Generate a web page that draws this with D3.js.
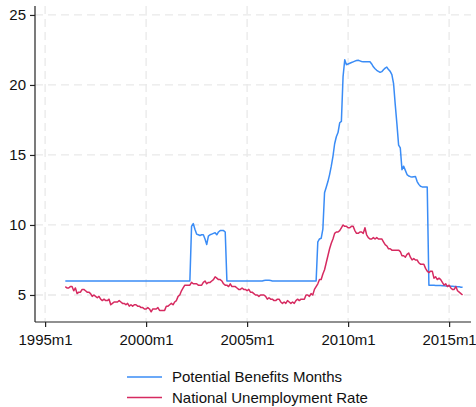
<!DOCTYPE html>
<html>
<head>
<meta charset="utf-8">
<script src="https://cdn.jsdelivr.net/npm/d3@7"></script>
<style>
	body { margin: 0; background: #fff; }
	text { font-family: 'Liberation Sans', Arial, Helvetica, sans-serif; fill: #111; }
</style>
</head>
<body>
<svg id="chart" width="476" height="407"></svg>
<script>
// monthly series, first value = 1996m1
const startYear = 1996;

const benefitMonths = [
	6.0, 6.0, 6.0, 6.0, 6.0, 6.0, 6.0, 6.0, 6.0, 6.0, 6.0, 6.0, // 1996
	6.0, 6.0, 6.0, 6.0, 6.0, 6.0, 6.0, 6.0, 6.0, 6.0, 6.0, 6.0, // 1997
	6.0, 6.0, 6.0, 6.0, 6.0, 6.0, 6.0, 6.0, 6.0, 6.0, 6.0, 6.0, // 1998
	6.0, 6.0, 6.0, 6.0, 6.0, 6.0, 6.0, 6.0, 6.0, 6.0, 6.0, 6.0, // 1999
	6.0, 6.0, 6.0, 6.0, 6.0, 6.0, 6.0, 6.0, 6.0, 6.0, 6.0, 6.0, // 2000
	6.0, 6.0, 6.0, 6.0, 6.0, 6.0, 6.0, 6.0, 6.0, 6.0, 6.0, 6.0, // 2001
	6.0, 6.0, 6.0, 9.9, 10.1, 9.7, 9.35, 9.3, 9.25, 9.3, 9.3, 9.0, // 2002
	8.6, 9.2, 9.3, 9.35, 9.4, 9.45, 9.3, 9.5, 9.6, 9.6, 9.6, 9.5, // 2003
	6.0, 6.0, 6.0, 6.0, 6.0, 6.0, 6.0, 6.0, 6.0, 6.0, 6.0, 6.0, // 2004
	6.0, 6.0, 6.0, 6.0, 6.0, 6.0, 6.0, 6.0, 6.0, 6.0, 6.03, 6.05, // 2005
	6.05, 6.05, 6.03, 6.0, 6.0, 6.0, 6.0, 6.0, 6.0, 6.0, 6.0, 6.0, // 2006
	6.0, 6.0, 6.0, 6.0, 6.0, 6.0, 6.0, 6.0, 6.0, 6.0, 6.0, 6.0, // 2007
	6.0, 6.0, 6.0, 6.0, 6.0, 6.0, 8.8, 9.0, 9.05, 9.7, 12.3, 12.7, // 2008
	13.1, 13.6, 14.2, 14.9, 15.8, 16.3, 16.6, 17.3, 17.4, 20.6, 21.8, 21.45, // 2009
	21.5, 21.55, 21.6, 21.65, 21.7, 21.75, 21.76, 21.72, 21.68, 21.66, 21.66, 21.66, // 2010
	21.66, 21.66, 21.5, 21.3, 21.16, 21.05, 20.97, 20.9, 20.95, 21.09, 21.2, 21.28, // 2011
	21.1, 20.97, 20.74, 20.1, 18.6, 17.2, 15.7, 15.5, 13.95, 14.2, 13.9, 13.6, // 2012
	13.5, 13.45, 13.43, 13.45, 13.47, 13.1, 12.9, 12.76, 12.72, 12.72, 12.72, 12.72, // 2013
	5.7, 5.7, 5.7, 5.69, 5.68, 5.68, 5.67, 5.67, 5.66, 5.66, 5.65, 5.65, // 2014
	5.64, 5.63, 5.62, 5.61, 5.6, 5.59, 5.58, 5.56, 5.55 // 2015
];

const unemploymentRate = [
	5.6, 5.5, 5.5, 5.6, 5.6, 5.3, 5.5, 5.1, 5.2, 5.2, 5.4, 5.4, // 1996
	5.3, 5.2, 5.2, 5.1, 4.9, 5.0, 4.9, 4.8, 4.9, 4.7, 4.6, 4.7, // 1997
	4.6, 4.6, 4.7, 4.3, 4.4, 4.5, 4.5, 4.5, 4.6, 4.5, 4.4, 4.4, // 1998
	4.3, 4.4, 4.2, 4.3, 4.2, 4.3, 4.3, 4.2, 4.2, 4.1, 4.1, 4.0, // 1999
	4.0, 4.1, 4.0, 3.8, 4.0, 4.0, 4.0, 4.1, 3.9, 3.9, 3.9, 3.9, // 2000
	4.2, 4.2, 4.3, 4.4, 4.3, 4.5, 4.6, 4.9, 5.0, 5.3, 5.5, 5.7, // 2001
	5.7, 5.7, 5.7, 5.9, 5.8, 5.8, 5.8, 5.7, 5.7, 5.7, 5.9, 6.0, // 2002
	5.8, 5.9, 5.9, 6.0, 6.1, 6.3, 6.2, 6.1, 6.1, 6.0, 5.8, 5.7, // 2003
	5.7, 5.6, 5.8, 5.6, 5.6, 5.6, 5.5, 5.4, 5.4, 5.5, 5.4, 5.4, // 2004
	5.3, 5.4, 5.2, 5.2, 5.1, 5.0, 5.0, 4.9, 5.0, 5.0, 5.0, 4.9, // 2005
	4.7, 4.8, 4.7, 4.7, 4.6, 4.6, 4.7, 4.7, 4.5, 4.4, 4.5, 4.4, // 2006
	4.6, 4.5, 4.4, 4.5, 4.4, 4.6, 4.7, 4.6, 4.7, 4.7, 4.7, 5.0, // 2007
	5.0, 4.9, 5.1, 5.0, 5.4, 5.6, 5.8, 6.1, 6.1, 6.5, 6.8, 7.3, // 2008
	7.8, 8.3, 8.7, 9.0, 9.4, 9.5, 9.5, 9.6, 9.8, 10.0, 9.9, 9.9, // 2009
	9.8, 9.8, 9.9, 9.9, 9.6, 9.4, 9.4, 9.5, 9.5, 9.4, 9.8, 9.3, // 2010
	9.1, 9.0, 9.0, 9.1, 9.0, 9.1, 9.0, 9.0, 9.0, 8.8, 8.6, 8.5, // 2011
	8.3, 8.3, 8.2, 8.2, 8.2, 8.2, 8.2, 8.1, 7.8, 7.8, 7.7, 7.9, // 2012
	8.0, 7.7, 7.5, 7.6, 7.5, 7.5, 7.3, 7.2, 7.2, 7.2, 6.9, 6.7, // 2013
	6.6, 6.7, 6.7, 6.2, 6.3, 6.1, 6.2, 6.1, 5.9, 5.7, 5.8, 5.6, // 2014
	5.7, 5.5, 5.4, 5.4, 5.6, 5.3, 5.2, 5.1, 5.0 // 2015
];

const seriesNames = ['Potential Benefits Months', 'National Unemployment Rate'];
const seriesColors = ['#3a8cf6', '#d62a60'];
const xTickLabels = ['1995m1', '2000m1', '2005m1', '2010m1', '2015m1'];
const yTicks = [5, 10, 15, 20, 25];

let svg = d3.select('#chart');
let plot = { left: 35, right: 471, top: 6, bottom: 322 };

// x in months since 1995m1
let x = d3.scaleLinear().domain([-6, 253]).range([plot.left, plot.right]);
let y = d3.scaleLinear().domain([3.07, 25.64]).range([plot.bottom, plot.top]);

let monthOf = (i) => (startYear - 1995) * 12 + i;
let xTicks = xTickLabels.map((s) => (+s.slice(0, 4) - 1995) * 12);

// grid
let grid = svg.append('g').attr('stroke', '#e9e9e9').attr('stroke-width', 1.3).attr('stroke-dasharray', '8,5');
grid.selectAll('.gy').data(yTicks).enter().append('line')
	.attr('x1', plot.left).attr('x2', plot.right)
	.attr('y1', (d) => y(d)).attr('y2', (d) => y(d));
grid.selectAll('.gx').data(xTicks).enter().append('line')
	.attr('x1', (d) => x(d)).attr('x2', (d) => x(d))
	.attr('y1', plot.top).attr('y2', plot.bottom);

// axes
let yAxis = svg.append('g')
	.attr('transform', 'translate(' + plot.left + ',0)')
	.call(d3.axisLeft(y).tickValues(yTicks).tickSize(5).tickPadding(4));
let xAxis = svg.append('g')
	.attr('transform', 'translate(0,' + plot.bottom + ')')
	.call(d3.axisBottom(x).tickValues(xTicks).tickSize(5).tickPadding(7)
		.tickFormat((d, i) => xTickLabels[i]));

[xAxis, yAxis].forEach((a) => {
	a.select('.domain').attr('stroke', '#222').attr('stroke-width', 1.2);
	a.selectAll('.tick line').attr('stroke', '#222').attr('stroke-width', 1.2);
	a.selectAll('.tick text').attr('font-size', 15).attr('fill', '#111')
		.style('font-family', "'Liberation Sans', Arial, sans-serif");
});
yAxis.select('.domain').attr('d', 'M0,' + plot.top + 'V' + plot.bottom);
xAxis.select('.domain').attr('d', 'M' + plot.left + ',0H' + plot.right);

// lines
let line = d3.line()
	.x((d, i) => x(monthOf(i)))
	.y((d) => y(d));

[benefitMonths, unemploymentRate].forEach((data, k) => {
	svg.append('path')
		.datum(data)
		.attr('fill', 'none')
		.attr('stroke', seriesColors[k])
		.attr('stroke-width', 1.5)
		.attr('stroke-linejoin', 'round')
		.attr('d', line);
});

// legend
let legend = svg.selectAll('.legend')
	.data(seriesNames)
	.enter().append('g')
	.attr('class', 'legend')
	.attr('transform', (d, i) => 'translate(127,' + (377 + i * 20.5) + ')');

legend.append('line')
	.attr('x1', 0).attr('x2', 35)
	.attr('stroke', (d, i) => seriesColors[i])
	.attr('stroke-width', 1.5);

legend.append('text')
	.attr('x', 45)
	.attr('dy', '0.35em')
	.attr('font-size', 15)
	.text((d) => d);
</script>
</body>
</html>
